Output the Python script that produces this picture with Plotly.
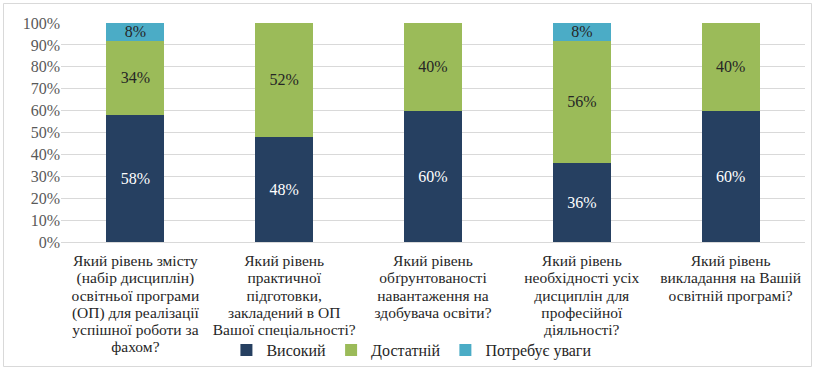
import plotly.graph_objects as go

category_lines = [
    ["Який рівень змісту", "(набір дисциплін)", "освітньої програми", "(ОП) для реалізації", "успішної роботи за", "фахом?"],
    ["Який рівень", "практичної", "підготовки,", "закладений в ОП", "Вашої спеціальності?"],
    ["Який рівень", "обґрунтованості", "навантаження на", "здобувача освіти?"],
    ["Який рівень", "необхідності усіх", "дисциплін для", "професійної", "діяльності?"],
    ["Який рівень", "викладання на Вашій", "освітній програмі?"],
]
high = [58, 48, 60, 36, 60]
enough = [34, 52, 40, 56, 40]
attention = [8, 0, 0, 8, 0]
series_names = ["Високий", "Достатній", "Потребує уваги"]
colors = ["#264061", "#9BBB59", "#4BACC6"]
text_colors = ["white", "#262626", "#262626"]

SERIF = "Liberation Serif"
W, H = 815, 369
ml, mr, mt, mb = 61, 10, 23, 127

# tick labels: larger glyphs inside a smaller base font to get tight line spacing
categories = ["<br>".join(f'<span style="font-size:15.5px">{ln}</span>' for ln in lines)
              for lines in category_lines]

fig = go.Figure()
for name, vals, c, tc in zip(series_names, [high, enough, attention], colors, text_colors):
    fig.add_trace(go.Bar(
        x=list(range(len(categories))), y=vals, name=name,
        marker=dict(color=c, line=dict(width=0)),
        text=[f"{v}%" if v > 0 else "" for v in vals],
        textposition="inside", insidetextanchor="middle", textangle=0,
        textfont=dict(family=SERIF, size=16, color=tc),
    ))

pw = W - ml - mr
ph = H - mt - mb
def px2x(p):
    return (p - ml) / pw
def py2y(p):
    return (H - mb - p) / ph

fig.add_shape(type="rect", xref="paper", yref="paper",
              x0=px2x(3.5), x1=px2x(811.5), y0=py2y(366.5), y1=py2y(3.5),
              line=dict(color="#D9D9D9", width=1), layer="below")

fig.update_layout(
    width=W, height=H,
    margin=dict(l=ml, r=mr, t=mt, b=mb, autoexpand=False),
    barmode="stack", bargap=0.61,
    plot_bgcolor="white", paper_bgcolor="white",
    font=dict(family=SERIF, size=15, color="#262626"),
    xaxis=dict(tickvals=list(range(len(categories))), ticktext=categories,
               range=[-0.5, 4.5], showgrid=False, showline=True, automargin=False,
               linecolor="#D9D9D9", linewidth=1, ticks="", tickangle=0,
               ticklabelstandoff=7,
               tickfont=dict(family=SERIF, size=13.3, color="#262626")),
    yaxis=dict(range=[0, 100], dtick=10, ticksuffix="%", showgrid=True, automargin=False,
               gridcolor="#D9D9D9", gridwidth=1, zeroline=False,
               tickfont=dict(family=SERIF, size=16, color="#595959")),
    legend=dict(orientation="h", x=0.471, xanchor="center", y=py2y(350), yanchor="middle",
                font=dict(family=SERIF, size=16, color="#262626"),
                itemwidth=30, traceorder="normal", bgcolor="rgba(0,0,0,0)"),
    uniformtext=dict(mode="show", minsize=16),
)

fig.write_html("out.html")
